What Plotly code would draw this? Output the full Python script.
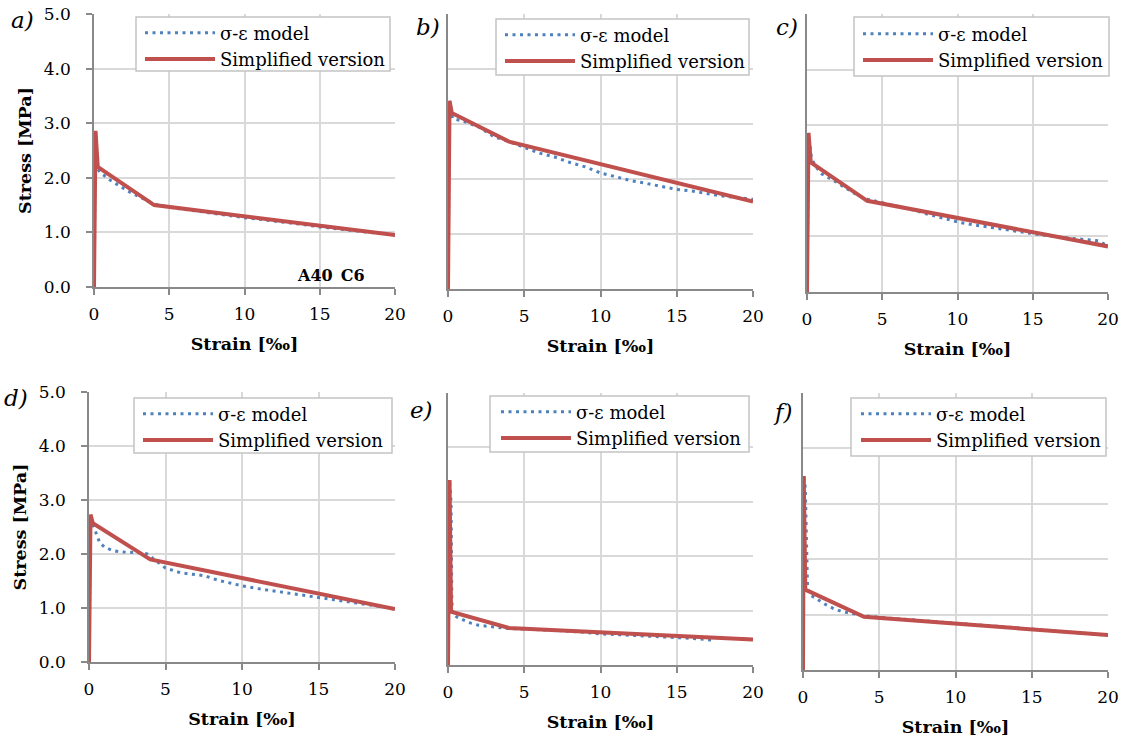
import plotly.graph_objects as go

# ---------------- data ----------------
xticks = [0, 5, 10, 15, 20]
panel_labels = ["a)", "b)", "c)", "d)", "e)", "f)"]
model_name = "σ-ε model"
simp_name = "Simplified version"

# a)
blue_a_x = [0, 0.1, 0.25, 0.5, 1, 1.5, 2, 2.5, 3, 3.5, 4, 5, 6, 7, 8, 9, 10, 11, 12, 13, 14, 15, 16, 17, 18, 19, 20]
blue_a_y = [0, 2.86, 2.15, 2.08, 1.97, 1.88, 1.80, 1.72, 1.65, 1.58, 1.52, 1.46, 1.42, 1.38, 1.34, 1.31, 1.27, 1.24, 1.21, 1.18, 1.14, 1.10, 1.07, 1.04, 1.01, 0.98, 0.95]
red_a_x = [0, 0.1, 0.25, 4, 20]
red_a_y = [0, 2.86, 2.20, 1.50, 0.95]

# b)
blue_b_x = [0, 0.1, 0.3, 1, 2, 2.5, 3, 4, 5, 6, 7, 8, 9, 10, 11, 12, 13, 14, 15, 16, 17, 18, 19, 20]
blue_b_y = [0, 3.42, 3.10, 3.05, 2.95, 2.86, 2.77, 2.68, 2.58, 2.47, 2.40, 2.30, 2.22, 2.11, 2.04, 1.97, 1.92, 1.86, 1.81, 1.78, 1.73, 1.69, 1.66, 1.63]
red_b_x = [0, 0.1, 0.25, 4, 20]
red_b_y = [0, 3.42, 3.20, 2.68, 1.59]

# c)
blue_c_x = [0, 0.1, 0.3, 0.6, 1, 1.5, 2, 2.5, 3, 3.5, 4, 5, 6, 7, 8, 9, 10, 11, 12, 13, 14, 15, 16, 17, 18, 19, 19.4, 20]
blue_c_y = [0, 2.86, 2.40, 2.25, 2.12, 2.05, 1.97, 1.88, 1.80, 1.72, 1.67, 1.61, 1.55, 1.48, 1.40, 1.33, 1.26, 1.21, 1.17, 1.13, 1.09, 1.04, 1.01, 0.98, 0.96, 0.94, 0.92, 0.82]
red_c_x = [0, 0.1, 0.25, 4, 20]
red_c_y = [0, 2.86, 2.33, 1.64, 0.82]

# d)
blue_d_x = [0, 0.1, 0.3, 0.7, 1, 1.5, 2, 2.5, 3, 3.5, 3.8, 4.5, 5, 6, 7, 7.5, 8.5, 10, 11, 12.5, 14, 15, 16, 17.5, 19, 20]
blue_d_y = [0, 2.73, 2.51, 2.21, 2.13, 2.07, 2.04, 2.03, 2.03, 2.02, 2.00, 1.85, 1.74, 1.65, 1.62, 1.60, 1.51, 1.41, 1.36, 1.30, 1.24, 1.19, 1.16, 1.10, 1.03, 0.98]
red_d_x = [0, 0.1, 0.25, 4, 20]
red_d_y = [0, 2.73, 2.57, 1.90, 0.98]

# e)
blue_e_x = [0, 0.1, 0.2, 0.22, 0.25, 0.3, 0.6, 1, 1.5, 2, 3, 4, 5, 6, 7.5, 9, 10, 11, 12.5, 14, 15, 16, 17.3]
blue_e_y = [0, 3.40, 3.00, 2.00, 1.20, 0.94, 0.88, 0.83, 0.77, 0.73, 0.70, 0.67, 0.66, 0.65, 0.63, 0.60, 0.57, 0.56, 0.54, 0.52, 0.51, 0.49, 0.46]
red_e_x = [0, 0.1, 0.2, 4, 20]
red_e_y = [0, 3.40, 0.98, 0.68, 0.47]

# f)
blue_f_x = [0, 0.05, 0.15, 0.25, 0.3, 0.5, 1, 1.5, 2, 2.5, 3, 3.5, 4, 5, 7.5, 10, 12.5, 15, 17.5, 20]
blue_f_y = [0, 3.50, 3.30, 2.00, 1.45, 1.35, 1.26, 1.18, 1.11, 1.06, 1.03, 1.00, 0.98, 0.95, 0.90, 0.85, 0.79, 0.74, 0.68, 0.63]
red_f_x = [0, 0.05, 0.15, 4, 20]
red_f_y = [0, 3.50, 1.45, 0.96, 0.63]

blues = [(blue_a_x, blue_a_y), (blue_b_x, blue_b_y), (blue_c_x, blue_c_y),
         (blue_d_x, blue_d_y), (blue_e_x, blue_e_y), (blue_f_x, blue_f_y)]
reds = [(red_a_x, red_a_y), (red_b_x, red_b_y), (red_c_x, red_c_y),
        (red_d_x, red_d_y), (red_e_x, red_e_y), (red_f_x, red_f_y)]

# ---------------- layout geometry (pixels) ----------------
W, H = 1125, 742
# (x0, x1, ytop, ybottom) of each plot area
areas = [(94, 395, 14, 287), (448, 753, 14, 289), (807, 1108, 14, 292),
         (89, 395, 392, 662), (448, 753, 393, 665), (803, 1108, 393, 670)]
# legend boxes (x0, x1, y0, y1) and row-1 centre / text start
legend_box = [(136, 390, 17, 71), (496, 749, 19, 75), (854, 1109, 17, 76),
              (134, 392, 398, 453), (490, 749, 396, 452), (851, 1106, 398, 456)]
legend_row1 = [31, 33, 32, 412, 410, 412]
legend_text_x = [221, 581, 939, 219, 577, 937]
label_pos = [(22, 20), (428, 27), (787, 27), (16, 398), (421, 410), (783, 412)]

SERIF = "DejaVu Serif"
BLUE = "#4F81BD"
RED = "#C0504D"
GRID = "#d9d9d9"
AXL = "#898989"
ITEMW = 70
TEXT_OFF = ITEMW + 11
ROW_OFF = 16.5

fig = go.Figure()
layout = dict(
    width=W, height=H, margin=dict(l=0, r=0, t=0, b=0, autoexpand=False),
    paper_bgcolor="white", plot_bgcolor="white",
    font=dict(family=SERIF, size=17, color="black"),
    annotations=[], shapes=[],
)

for i in range(6):
    n = "" if i == 0 else str(i + 1)
    xa, ya = "x" + n, "y" + n
    lg = "legend" + n
    bx, by = blues[i]
    rx, ry = reds[i]
    fig.add_trace(go.Scatter(x=bx, y=by, mode="lines", name=model_name,
                             line=dict(color=BLUE, width=3, dash="3px,4.5px"),
                             xaxis=xa, yaxis=ya, legend=lg))
    fig.add_trace(go.Scatter(x=rx, y=ry, mode="lines", name=simp_name,
                             line=dict(color=RED, width=4),
                             xaxis=xa, yaxis=ya, legend=lg))
    x0, x1, yt, yb = areas[i]
    first_col = i % 3 == 0
    layout["xaxis" + n] = dict(
        domain=[x0 / W, x1 / W], anchor=ya, range=[0, 20], tickvals=xticks,
        showgrid=True, gridcolor=GRID, gridwidth=1.5, zeroline=False,
        showline=True, linecolor=AXL, linewidth=1.5,
        ticks="outside", ticklen=6, tickcolor=AXL, tickwidth=1.5,
        ticklabelstandoff=5,
        tickfont=dict(family=SERIF, size=17, color="black"),
        title=dict(text="<b>Strain [‰]</b>", standoff=15,
                   font=dict(family=SERIF, size=17.5, color="black")),
    )
    layout["yaxis" + n] = dict(
        domain=[1 - yb / H, 1 - yt / H], anchor=xa, range=[0, 5], dtick=1,
        tickformat=".1f", showticklabels=first_col,
        showgrid=True, gridcolor=GRID, gridwidth=1.5, zeroline=False,
        showline=True, linecolor=AXL, linewidth=1.5,
        ticks="outside" if first_col else "", ticklen=6, tickcolor=AXL, tickwidth=1.5,
        ticklabelstandoff=12,
        tickfont=dict(family=SERIF, size=17, color="black"),
        title=dict(text="<b>Stress [MPa]</b>" if first_col else "", standoff=8,
                   font=dict(family=SERIF, size=17.5, color="black")),
    )
    bx0, bx1, by0, by1 = legend_box[i]
    layout["shapes"].append(dict(
        type="rect", xref="paper", yref="paper", layer="above",
        x0=bx0 / W, x1=bx1 / W, y0=1 - by1 / H, y1=1 - by0 / H,
        fillcolor="white", line=dict(color="#c4c4c4", width=1.5)))
    layout[lg] = dict(
        x=(legend_text_x[i] - TEXT_OFF) / W, y=1 - (legend_row1[i] - ROW_OFF) / H,
        xanchor="left", yanchor="top", xref="paper", yref="paper",
        bgcolor="rgba(0,0,0,0)", borderwidth=0,
        font=dict(family=SERIF, size=18, color="black"),
        itemwidth=ITEMW, tracegroupgap=0,
    )
    px, py = label_pos[i]
    layout["annotations"].append(dict(
        text="<i>" + panel_labels[i] + "</i>", x=px / W, y=1 - py / H,
        xref="paper", yref="paper", showarrow=False,
        xanchor="center", yanchor="middle",
        font=dict(family=SERIF, size=23, color="black")))

layout["annotations"].append(dict(
    text="<b>A40\u2002C6</b>", x=331 / W, y=1 - 275 / H, xref="paper", yref="paper",
    showarrow=False, xanchor="center", yanchor="middle",
    font=dict(family=SERIF, size=16, color="black")))

fig.update_layout(**layout)
fig.write_html("out.html")
